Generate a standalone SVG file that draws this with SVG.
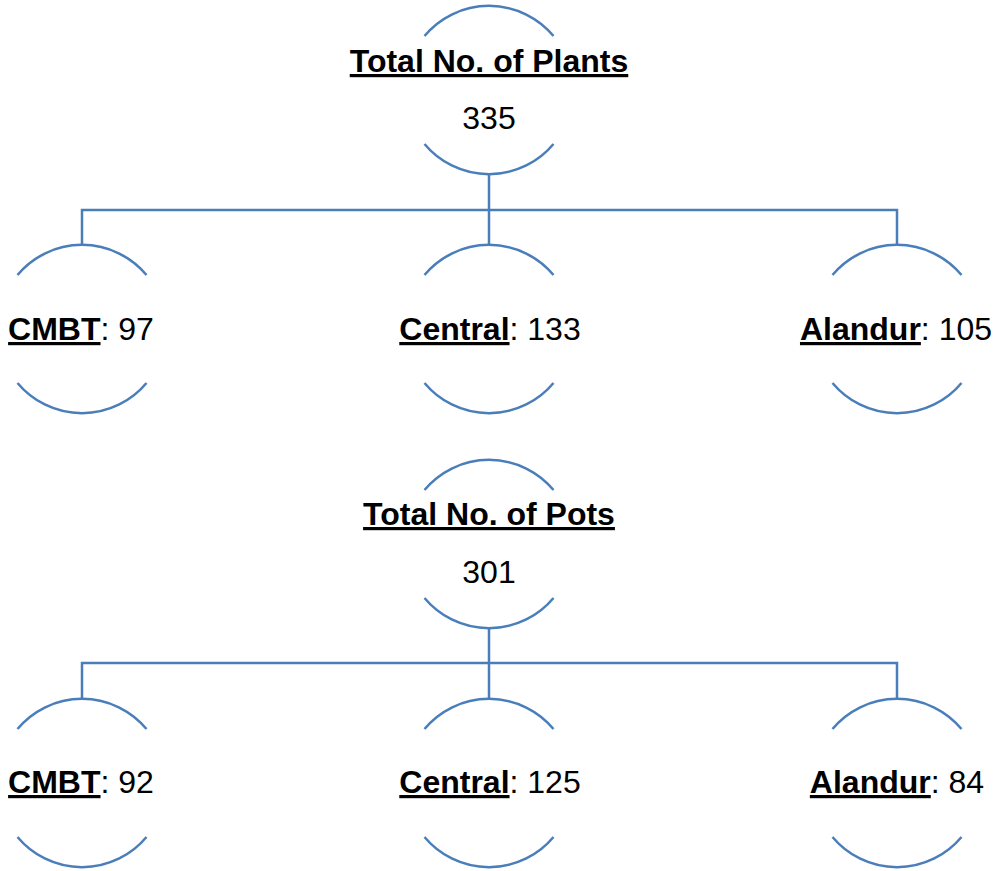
<svg xmlns="http://www.w3.org/2000/svg" width="1003" height="871" viewBox="0 0 1003 871">
<style>
.arc{fill:none;stroke:#4a7ebb;stroke-width:2.5}
.con{fill:none;stroke:#4a7ebb;stroke-width:2.5}
text{font-family:"Liberation Sans",Arial,sans-serif;font-size:32px;fill:#000;text-anchor:middle}
.b{font-weight:bold;text-decoration:underline}
</style>
<rect width="1003" height="871" fill="#fff"/>
<g id="connectors">
<path class="con" d="M489 174 V210 M82 245 V210 H897 V245 M489 210 V245"/>
<path class="con" d="M489 628 V663 M82 699 V663 H897 V699 M489 663 V699"/>
</g>
<g id="plants">
<path class="arc" d="M424.5 36 A84 84 0 0 1 553.5 36"/>
<path class="arc" d="M553.5 144 A84 84 0 0 1 424.5 144"/>
<text x="489" y="72"><tspan class="b">Total No. of Plants</tspan></text>
<text x="489" y="129">335</text>
</g>
<g id="plants-cmbt">
<path class="arc" d="M17.5 275 A84 84 0 0 1 146.5 275"/>
<path class="arc" d="M146.5 383 A84 84 0 0 1 17.5 383"/>
<text x="81" y="340"><tspan class="b">CMBT</tspan>: 97</text>
</g>
<g id="plants-central">
<path class="arc" d="M424.5 275 A84 84 0 0 1 553.5 275"/>
<path class="arc" d="M553.5 383 A84 84 0 0 1 424.5 383"/>
<text x="490" y="340"><tspan class="b">Central</tspan>: 133</text>
</g>
<g id="plants-alandur">
<path class="arc" d="M832.5 275 A84 84 0 0 1 961.5 275"/>
<path class="arc" d="M961.5 383 A84 84 0 0 1 832.5 383"/>
<text x="896" y="340"><tspan class="b">Alandur</tspan>: 105</text>
</g>
<g id="pots">
<path class="arc" d="M424.5 490 A84 84 0 0 1 553.5 490"/>
<path class="arc" d="M553.5 598 A84 84 0 0 1 424.5 598"/>
<text x="489" y="525"><tspan class="b">Total No. of Pots</tspan></text>
<text x="489" y="583">301</text>
</g>
<g id="pots-cmbt">
<path class="arc" d="M17.5 729 A84 84 0 0 1 146.5 729"/>
<path class="arc" d="M146.5 837 A84 84 0 0 1 17.5 837"/>
<text x="81" y="793"><tspan class="b">CMBT</tspan>: 92</text>
</g>
<g id="pots-central">
<path class="arc" d="M424.5 729 A84 84 0 0 1 553.5 729"/>
<path class="arc" d="M553.5 837 A84 84 0 0 1 424.5 837"/>
<text x="490" y="793"><tspan class="b">Central</tspan>: 125</text>
</g>
<g id="pots-alandur">
<path class="arc" d="M832.5 729 A84 84 0 0 1 961.5 729"/>
<path class="arc" d="M961.5 837 A84 84 0 0 1 832.5 837"/>
<text x="897" y="793"><tspan class="b">Alandur</tspan>: 84</text>
</g>
</svg>
